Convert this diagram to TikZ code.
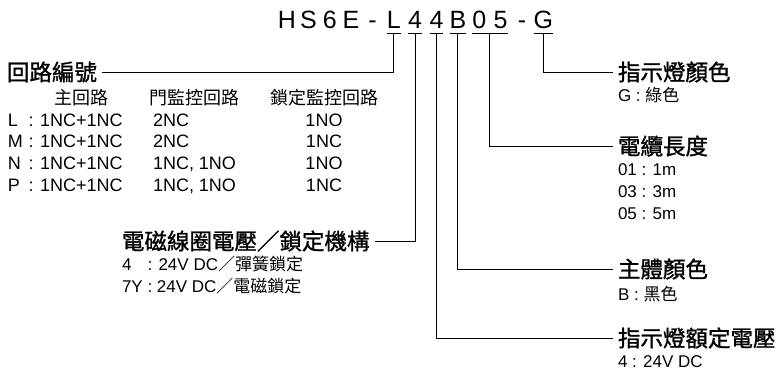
\documentclass[tikz,border=0pt]{standalone}
\usepackage{fontspec}
\setmainfont{Liberation Sans}
\newfontfamily\cjk{Noto Sans CJK TC}
\newfontfamily\cjkhead{Noto Sans CJK TC}[FakeBold=1.2]
\usetikzlibrary{positioning}

\begin{document}
\begin{tikzpicture}[
        x=1pt, y=-1pt,
        every node/.style={inner sep=0pt, outer sep=0pt},
        code/.style={font=\fontsize{25}{30}\selectfont, anchor=base},
        head/.style={font=\cjkhead\fontsize{22.5}{27}\selectfont, inner xsep=5pt, anchor=west},
        item/.style={font=\fontsize{17}{22}\selectfont, anchor=base west},
        cell/.style={font=\fontsize{18}{22}\selectfont, anchor=base west},
        wire/.style={line width=1pt}
    ]
    \useasboundingbox (0,0) rectangle (777,376);

    % 型號
    \foreach \ch/\nm [count=\i] in {H/c1,S/c2,6/c3,E/c4,-/c5,L/circ,4/coil,4/lamp,B/body,0/len0,5/len5,-/c12,G/color}
        \node[code] (\nm) at ({287+21.36*(\i-1)},28) {\ch};

    % 底線
    \foreach \nm in {circ,coil,lamp,body,color}
        \draw[wire] ([yshift=-5pt]\nm.base west) -- coordinate (\nm-u) ([yshift=-5pt]\nm.base east);
    \draw[wire] ([yshift=-5pt]len0.base west) -- coordinate (len-u) ([yshift=-5pt]len5.base east);

    % 回路編號
    \node[head] (circuit) at (2,72) {回路編號};
    \node[cell, anchor=base] (col-main) at (81,104) {\cjk 主回路};
    \node[cell, anchor=base] (col-door) at (194,104) {\cjk 門監控回路};
    \node[cell, anchor=base] (col-lock) at (324,104) {\cjk 鎖定監控回路};
    \foreach \key/\main/\door/\lock [count=\i] in {L/1NC+1NC/2NC/1NO, M/1NC+1NC/2NC/1NC, N/1NC+1NC/{1NC, 1NO}/1NO, P/1NC+1NC/{1NC, 1NO}/1NC} {
        \node[cell] (key-\i) at (8,{126+21.7*(\i-1)}) {\key};
        \node[cell] (main-\i) at (28.5,{126+21.7*(\i-1)}) {: \main};
        \node[cell] (door-\i) at (153,{126+21.7*(\i-1)}) {\door};
        \node[cell, anchor=base] (lock-\i) at (324,{126+21.7*(\i-1)}) {\lock};
    }

    % 電磁線圈電壓／鎖定機構
    \node[head] (coilhd) at (117,241) {電磁線圈電壓／鎖定機構};
    \node[item, below right=29pt and 5pt of coilhd.west, anchor=base west] (coil-1) {4\hphantom{Y} : 24V DC{\cjk ／彈簧鎖定}};
    \node[item, below=22pt of coil-1.base west, anchor=base west] (coil-2) {7Y : 24V DC{\cjk ／電磁鎖定}};

    % 指示燈顏色
    \node[head] (colorhd) at (613,72) {指示燈顏色};
    \node[item, below right=29pt and 5pt of colorhd.west, anchor=base west] (color-1) {G : {\cjk 綠色}};

    % 電纜長度
    \node[head] (lenhd) at (613,146) {電纜長度};
    \node[item, below right=29pt and 5pt of lenhd.west, anchor=base west] (len-1) {01 : 1m};
    \node[item, below=22pt of len-1.base west, anchor=base west] (len-2) {03 : 3m};
    \node[item, below=22pt of len-2.base west, anchor=base west] (len-3) {05 : 5m};

    % 主體顏色
    \node[head] (bodyhd) at (613,269) {主體顏色};
    \node[item, below right=31pt and 5pt of bodyhd.west, anchor=base west] (body-1) {B : {\cjk 黑色}};

    % 指示燈額定電壓
    \node[head] (lamphd) at (613,338) {指示燈額定電壓};
    \node[item, below right=29pt and 5pt of lamphd.west, anchor=base west] (lamp-1) {4 : 24V DC};

    % 連接線
    \draw[wire] (circ-u) |- (circuit.east);
    \draw[wire] (coil-u) |- (coilhd.east);
    \draw[wire] (lamp-u) |- (lamphd.west);
    \draw[wire] (body-u) |- (bodyhd.west);
    \draw[wire] (len-u) |- (lenhd.west);
    \draw[wire] (color-u) |- (colorhd.west);

\end{tikzpicture}
\end{document}
